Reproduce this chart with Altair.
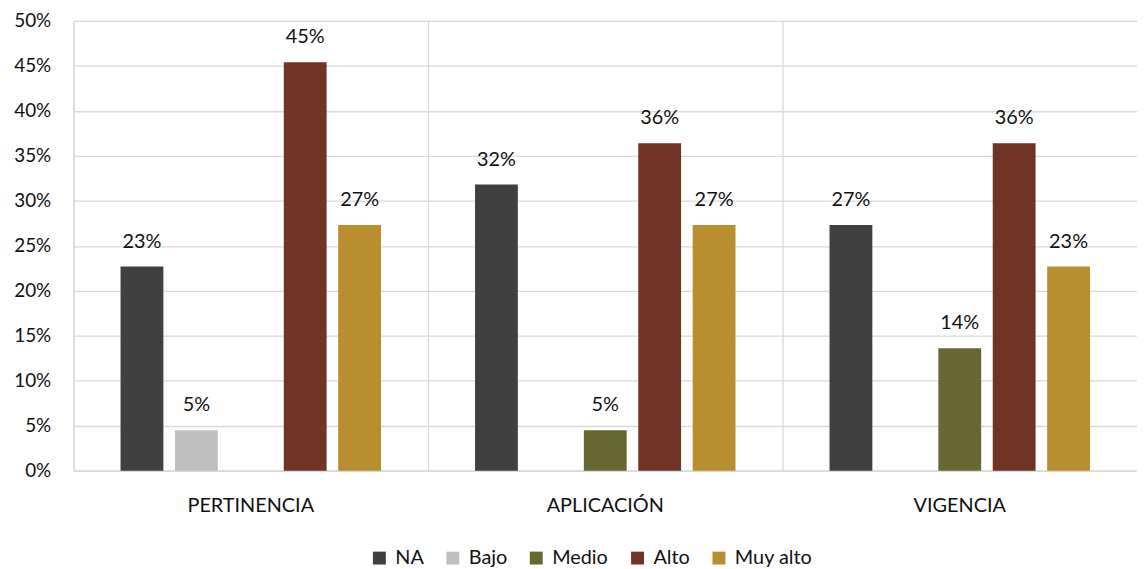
import altair as alt
import pandas as pd

categories = ["PERTINENCIA", "APLICACIÓN", "VIGENCIA"]
series = ["NA", "Bajo", "Medio", "Alto", "Muy alto"]
colors = ["#404040", "#bfbfbf", "#676733", "#713325", "#b98e2f"]
values = {
    "PERTINENCIA": [0.227, 0.045, None, 0.454, 0.273],
    "APLICACIÓN": [0.318, None, 0.045, 0.364, 0.273],
    "VIGENCIA": [0.273, None, 0.136, 0.364, 0.227],
}
y_ticks = [0, 0.05, 0.10, 0.15, 0.20, 0.25, 0.30, 0.35, 0.40, 0.45, 0.50]

rows = []
for c in categories:
    for s, v in zip(series, values[c]):
        if v is not None:
            rows.append({"cat": c, "serie": s, "val": v})
df = pd.DataFrame(rows)

FONT = "Lato"
W, H = 1071, 453

x_enc = alt.X("cat:N", sort=categories, title=None,
              scale=alt.Scale(paddingInner=0, paddingOuter=0),
              axis=alt.Axis(labelAngle=0, ticks=False, labelPadding=25, labelFontSize=20,
                            labelFont=FONT, labelColor="#111111", domainColor="#d9d9d9",
                            domainWidth=1.3, grid=True, bandPosition=0,
                            gridColor="#d9d9d9", gridWidth=1.3,
                            labelAlign="center"))
xoff = alt.XOffset("serie:N", sort=series,
                   scale=alt.Scale(domain=series, paddingInner=0.213, paddingOuter=0.864))
y_enc = alt.Y("val:Q", title=None,
              scale=alt.Scale(domain=[0, 0.5], nice=False),
              axis=alt.Axis(values=y_ticks, format=".0%", ticks=False, domain=False,
                            labelPadding=23, labelFontSize=19, labelFont=FONT,
                            labelColor="#111111", gridColor="#d9d9d9", gridWidth=1.3))

base = alt.Chart(df)

bars = base.mark_bar().encode(
    x=x_enc, xOffset=xoff, y=y_enc,
    color=alt.Color("serie:N", sort=series,
                    scale=alt.Scale(domain=series, range=colors),
                    legend=alt.Legend(title=None, orient="none", direction="horizontal",
                                      legendX=298, legendY=531, symbolType="square",
                                      symbolSize=169, symbolStrokeWidth=0,
                                      labelFontSize=20, labelFont=FONT, labelColor="#111111",
                                      labelOffset=6, columnPadding=19)),
)

labels = base.mark_text(dy=-19, baseline="alphabetic", fontSize=20, font=FONT,
                        color="#111111").encode(
    x=x_enc, xOffset=xoff, y=y_enc,
    text=alt.Text("val:Q", format=".0%"),
)

chart = alt.layer(bars, labels).properties(
    width=W, height=H,
    autosize=alt.AutoSizeParams(type="none"),
    padding={"left": 66, "top": 11, "right": 0, "bottom": 96},
).configure_view(stroke=None).configure(background="white")

chart.save("out.html", embed_options={"renderer": "svg", "actions": False})
